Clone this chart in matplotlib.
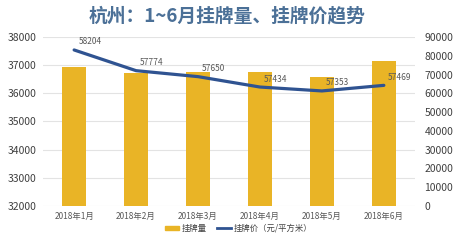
import matplotlib
matplotlib.use("Agg")
import matplotlib.pyplot as plt
from matplotlib.patches import Patch
from matplotlib.lines import Line2D

plt.rcParams['font.family'] = ['Noto Sans CJK SC', 'DejaVu Sans']

# data
months = ["2018年1月", "2018年2月", "2018年3月", "2018年4月", "2018年5月", "2018年6月"]
listings = [36950, 36730, 36770, 36750, 36590, 37150]
prices = [58204, 57774, 57650, 57434, 57353, 57469]

bar_color = '#e9b426'
line_color = '#2f5391'
text_color = '#404040'

fig = plt.figure(figsize=(4.64, 2.4), dpi=100)
ax = fig.add_axes([0.093, 0.142, 0.801, 0.704])

x = range(len(months))
ax.bar(x, listings, width=0.39, color=bar_color, zorder=2)
ax.set_ylim(32000, 38000)
ax.set_yticks(range(32000, 38001, 1000))
ax.set_xlim(-0.5, len(months) - 0.5)
ax.set_xticks(list(x))
ax.set_xticklabels(months, fontsize=6, color='#595959')
ax.tick_params(axis='y', labelsize=7.5, labelcolor=text_color, length=0, pad=5)
ax.tick_params(axis='x', length=0, pad=4)
ax.grid(axis='y', color='#e3e3e3', linewidth=0.8, zorder=0)
for s in ax.spines.values():
    s.set_visible(False)

# right axis (labels only)
ax2 = ax.twinx()
ax2.set_ylim(0, 90000)
ax2.set_yticks(range(0, 90001, 10000))
ax2.tick_params(axis='y', labelsize=7.5, labelcolor=text_color, length=0, pad=7)
for s in ax2.spines.values():
    s.set_visible(False)

# hidden axis for the price line
ax3 = ax.twinx()
ax3.set_ylim(54965, 58474)
ax3.axis('off')
ax3.plot(list(x), prices, color=line_color, linewidth=2.3, solid_capstyle='round', zorder=3)
for xi, p in zip(x, prices):
    ax3.annotate(str(p), (xi, p), xytext=(3, 2.5), textcoords='offset points',
                 fontsize=6, color='#595959', ha='left', va='bottom')

fig.text(0.49, 0.935, "杭州：1~6月挂牌量、挂牌价趋势", ha='center', va='center',
         fontsize=13.5, fontweight='bold', color='#4b7097')

handles = [Patch(color=bar_color), Line2D([0], [0], color=line_color, linewidth=2)]
fig.legend(handles, ["挂牌量", "挂牌价（元/平方米）"], loc='center', bbox_to_anchor=(0.515, 0.048),
           ncol=2, frameon=False, fontsize=6, handlelength=1.6, handleheight=0.5,
           columnspacing=1.2, handletextpad=0.4, labelcolor='#404040')

fig.savefig("out.png", dpi=100)
